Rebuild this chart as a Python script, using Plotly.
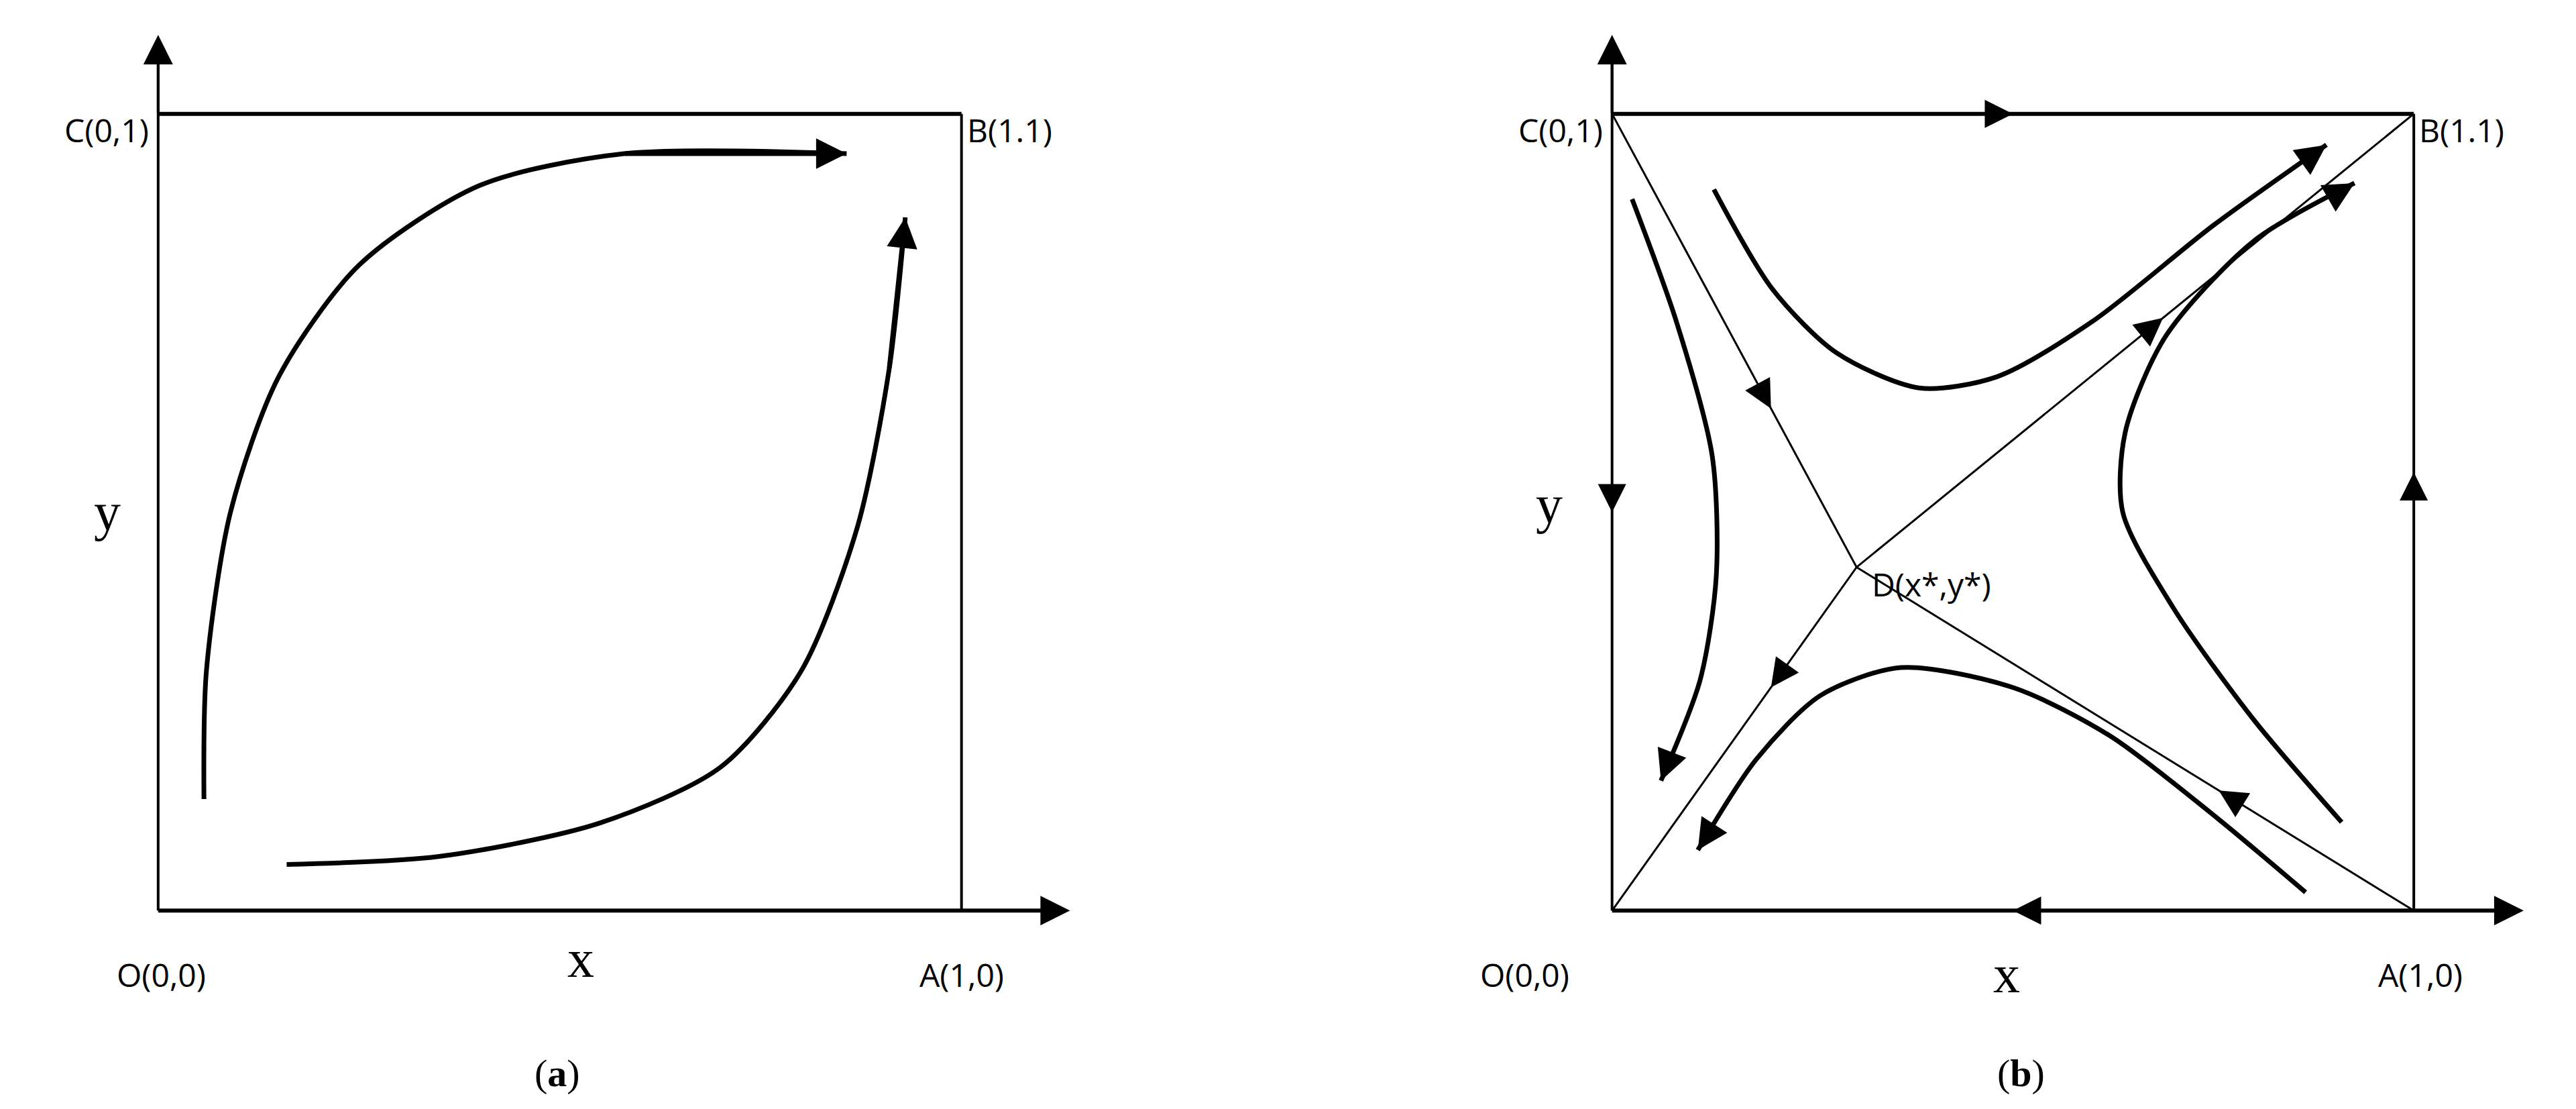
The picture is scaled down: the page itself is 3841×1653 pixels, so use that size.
import plotly.graph_objects as go

# panel (a) trajectories, unit square coordinates
a_curve1_x = [0.057, 0.06, 0.09, 0.15, 0.25, 0.40, 0.58, 0.857]
a_curve1_y = [0.14, 0.30, 0.50, 0.67, 0.81, 0.91, 0.95, 0.95]
a_curve2_x = [0.16, 0.35, 0.55, 0.70, 0.80, 0.87, 0.91, 0.93]
a_curve2_y = [0.058, 0.068, 0.11, 0.18, 0.30, 0.48, 0.68, 0.87]

# panel (b) saddle point and trajectories
d_point = (0.305, 0.431)
b_top_x = [0.127, 0.20, 0.28, 0.383, 0.48, 0.60, 0.75, 0.891]
b_top_y = [0.905, 0.78, 0.70, 0.656, 0.67, 0.74, 0.86, 0.961]
b_right_x = [0.91, 0.80, 0.70, 0.637, 0.64, 0.69, 0.80, 0.926]
b_right_y = [0.111, 0.24, 0.38, 0.50, 0.60, 0.72, 0.84, 0.913]
b_left_x = [0.025, 0.08, 0.125, 0.13, 0.11, 0.061]
b_left_y = [0.893, 0.74, 0.57, 0.42, 0.29, 0.163]
b_bottom_x = [0.865, 0.75, 0.62, 0.50, 0.36, 0.26, 0.18, 0.107]
b_bottom_y = [0.023, 0.12, 0.22, 0.28, 0.305, 0.27, 0.19, 0.076]

SANS = "Open Sans"
SERIF = "Liberation Serif"

fig = go.Figure()


def line(ax, xs, ys, width, spline=False):
    fig.add_trace(go.Scatter(
        x=xs, y=ys, mode="lines", xaxis="x" + ax, yaxis="y" + ax,
        line=dict(color="black", width=width, shape="spline" if spline else "linear",
                  smoothing=0.8),
        showlegend=False, hoverinfo="skip"))


def head(ax, x0, y0, x1, y1, width, size):
    # arrow head at (x1, y1) pointing from (x0, y0)
    xa = "x" + ax
    ya = "y" + ax
    fig.add_annotation(x=x1, y=y1, ax=x0, ay=y0, xref=xa, yref=ya, axref=xa, ayref=ya,
                       showarrow=True, arrowhead=2, arrowwidth=width, arrowsize=size,
                       arrowcolor="black", text="")


def mid_head(ax, p0, p1, t):
    # arrow head on the segment p0 -> p1 at fraction t
    x1 = p0[0] + t * (p1[0] - p0[0])
    y1 = p0[1] + t * (p1[1] - p0[1])
    x0 = p0[0] + (t - 0.03) * (p1[0] - p0[0])
    y0 = p0[1] + (t - 0.03) * (p1[1] - p0[1])
    head(ax, x0, y0, x1, y1, 3, 2.8)


def label(ax, x, y, text, font, size, anchor="center"):
    fig.add_annotation(x=x, y=y, xref="x" + ax, yref="y" + ax, text=text, showarrow=False,
                       xanchor=anchor, font=dict(family=font, size=size, color="black"))


# ---------- panel (a): axes x/y ----------
line("", [0, 0], [0, 1.08], 4)
head("", 0, 1.0, 0, 1.099, 4, 2.2)
line("", [0, 1.12], [0, 0], 6)
head("", 1.0, 0, 1.135, 0, 4, 2.2)
line("", [0, 1], [1, 1], 6)
line("", [1, 1], [0, 1], 4)
line("", a_curve1_x, a_curve1_y, 7, True)
head("", a_curve1_x[-2], a_curve1_y[-2], a_curve1_x[-1], a_curve1_y[-1], 7, 1.3)
line("", a_curve2_x, a_curve2_y, 7, True)
head("", a_curve2_x[-2], a_curve2_y[-2], a_curve2_x[-1], a_curve2_y[-1], 7, 1.3)

label("", -0.01, 0.98, "C(0,1)", SANS, 48, "right")
label("", 1.005, 0.98, "B(1.1)", SANS, 48, "left")
label("", 0.004, -0.08, "O(0,0)", SANS, 48)
label("", 1.0, -0.08, "A(1,0)", SANS, 48)
label("", 0.526, -0.06, "x", SERIF, 80)
label("", -0.063, 0.50, "y", SERIF, 80)
label("", 0.497, -0.204, "(<b>a</b>)", SERIF, 58)

# ---------- panel (b): axes x2/y2 ----------
O, A, B, C = (0, 0), (1, 0), (1, 1), (0, 1)
line("2", [0, 0], [0, 1.08], 4)
head("2", 0, 1.0, 0, 1.099, 4, 2.2)
line("2", [0, 1.12], [0, 0], 6)
head("2", 1.0, 0, 1.137, 0, 4, 2.2)
line("2", [0, 1], [1, 1], 6)
line("2", [1, 1], [0, 1], 4)
line("2", [C[0], d_point[0], A[0]], [C[1], d_point[1], A[1]], 3)
line("2", [O[0], d_point[0], B[0]], [O[1], d_point[1], B[1]], 3)

# direction marks on boundaries and separatrices
mid_head("2", C, B, 0.5)
mid_head("2", A, O, 0.5)
mid_head("2", C, O, 0.5)
mid_head("2", A, B, 0.55)
mid_head("2", C, d_point, 0.65)
mid_head("2", A, d_point, 0.35)
mid_head("2", d_point, O, 0.35)
mid_head("2", d_point, B, 0.55)

for xs, ys in [(b_top_x, b_top_y), (b_right_x, b_right_y),
               (b_left_x, b_left_y), (b_bottom_x, b_bottom_y)]:
    line("2", xs, ys, 7, True)
    head("2", xs[-2] + 0.8 * (xs[-1] - xs[-2]), ys[-2] + 0.8 * (ys[-1] - ys[-2]),
         xs[-1], ys[-1], 7, 1.3)

label("2", -0.01, 0.98, "C(0,1)", SANS, 48, "right")
label("2", 1.005, 0.98, "B(1.1)", SANS, 48, "left")
label("2", -0.109, -0.08, "O(0,0)", SANS, 48)
label("2", 1.008, -0.08, "A(1,0)", SANS, 48)
label("2", 0.322, 0.41, "D(x*,y*)", SANS, 48, "left")
label("2", 0.492, -0.08, "x", SERIF, 80)
label("2", -0.078, 0.51, "y", SERIF, 80)
label("2", 0.51, -0.204, "(<b>b</b>)", SERIF, 58)

hidden = dict(visible=False, showgrid=False, zeroline=False, fixedrange=True)
fig.update_layout(
    width=3841, height=1653,
    margin=dict(l=0, r=0, t=0, b=0),
    paper_bgcolor="white", plot_bgcolor="white",
    xaxis=dict(domain=[0, 0.5], range=[-0.1902, 1.4131], **hidden),
    yaxis=dict(domain=[0, 1], range=[-0.2557, 1.1361], **hidden),
    xaxis2=dict(domain=[0.5, 1], range=[-0.3975, 1.2090], **hidden),
    yaxis2=dict(domain=[0, 1], range=[-0.2557, 1.1361], anchor="x2", **hidden),
)
fig.write_html("out.html")
